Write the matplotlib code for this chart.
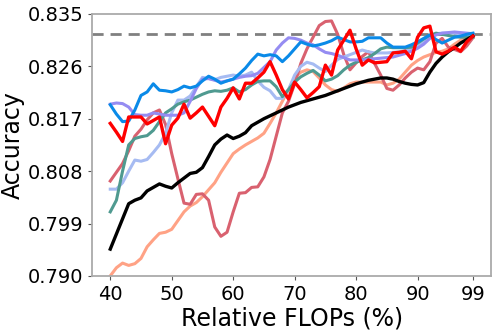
import matplotlib
matplotlib.use("Agg")
import matplotlib.pyplot as plt
import numpy as np

# relative FLOPs (%) and accuracy per method
flops = np.arange(40, 100)

acc_black = [0.7946, 0.7972, 0.7998, 0.8024, 0.8030, 0.8034, 0.8046, 0.8052, 0.8058, 0.8054,
             0.8051, 0.8060, 0.8068, 0.8076, 0.8078, 0.8086, 0.8105, 0.8125, 0.8135, 0.8142,
             0.8136, 0.8140, 0.8146, 0.8158, 0.8164, 0.8170, 0.8175, 0.8180, 0.8185, 0.8190,
             0.8194, 0.8198, 0.8201, 0.8204, 0.8207, 0.8210, 0.8214, 0.8218, 0.8222, 0.8226,
             0.8230, 0.8233, 0.8236, 0.8238, 0.8240, 0.8240, 0.8238, 0.8234, 0.8231, 0.8229,
             0.8228, 0.8232, 0.8250, 0.8265, 0.8276, 0.8285, 0.8292, 0.8300, 0.8306, 0.8312]
acc_red = [0.8162, 0.8147, 0.8131, 0.8173, 0.8173, 0.8173, 0.8161, 0.8167, 0.8173, 0.8127,
           0.8159, 0.8171, 0.8195, 0.8171, 0.8180, 0.8190, 0.8174, 0.8158, 0.8190, 0.8205,
           0.8223, 0.8204, 0.8231, 0.8231, 0.8240, 0.8250, 0.8268, 0.8245, 0.8220, 0.8204,
           0.8233, 0.8220, 0.8206, 0.8215, 0.8225, 0.8262, 0.8245, 0.8288, 0.8305, 0.8322,
           0.8290, 0.8262, 0.8271, 0.8266, 0.8267, 0.8268, 0.8283, 0.8284, 0.8286, 0.8273,
           0.8310, 0.8326, 0.8329, 0.8285, 0.8281, 0.8286, 0.8293, 0.8286, 0.8302, 0.8312]
acc_blue = [0.8194, 0.8178, 0.8165, 0.8166, 0.8185, 0.8210, 0.8216, 0.8230, 0.8219, 0.8218,
            0.8216, 0.8220, 0.8226, 0.8223, 0.8226, 0.8235, 0.8243, 0.8238, 0.8231, 0.8235,
            0.8238, 0.8247, 0.8257, 0.8270, 0.8281, 0.8278, 0.8280, 0.8278, 0.8268, 0.8278,
            0.8290, 0.8302, 0.8298, 0.8295, 0.8297, 0.8300, 0.8304, 0.8310, 0.8306, 0.8302,
            0.8302, 0.8303, 0.8309, 0.8309, 0.8309, 0.8300, 0.8293, 0.8293, 0.8293, 0.8297,
            0.8302, 0.8308, 0.8314, 0.8306, 0.8300, 0.8305, 0.8310, 0.8312, 0.8315, 0.8317]
acc_purple = [0.8195, 0.8197, 0.8196, 0.8190, 0.8177, 0.8176, 0.8176, 0.8180, 0.8178, 0.8176,
              0.8176, 0.8176, 0.8180, 0.8200, 0.8222, 0.8238, 0.8239, 0.8236, 0.8233, 0.8235,
              0.8238, 0.8241, 0.8243, 0.8244, 0.8248, 0.8258, 0.8268, 0.8288, 0.8300, 0.8309,
              0.8308, 0.8305, 0.8300, 0.8297, 0.8290, 0.8284, 0.8282, 0.8279, 0.8275, 0.8271,
              0.8271, 0.8271, 0.8272, 0.8273, 0.8274, 0.8275, 0.8276, 0.8279, 0.8282, 0.8286,
              0.8291, 0.8298, 0.8308, 0.8314, 0.8317, 0.8318, 0.8319, 0.8318, 0.8317, 0.8316]
acc_teal = [0.8010, 0.8030, 0.8080, 0.8125, 0.8136, 0.8139, 0.8141, 0.8150, 0.8165, 0.8180,
            0.8187, 0.8195, 0.8199, 0.8202, 0.8207, 0.8212, 0.8216, 0.8218, 0.8217, 0.8219,
            0.8223, 0.8216, 0.8220, 0.8228, 0.8234, 0.8235, 0.8235, 0.8225, 0.8208, 0.8220,
            0.8233, 0.8242, 0.8248, 0.8253, 0.8245, 0.8235, 0.8238, 0.8244, 0.8254, 0.8262,
            0.8267, 0.8271, 0.8275, 0.8282, 0.8290, 0.8293, 0.8292, 0.8292, 0.8292, 0.8293,
            0.8300, 0.8307, 0.8313, 0.8317, 0.8315, 0.8313, 0.8311, 0.8310, 0.8310, 0.8310]
acc_lightblue = [0.8049, 0.8049, 0.8060, 0.8080, 0.8099, 0.8097, 0.8100, 0.8112, 0.8125, 0.8145,
                 0.8180, 0.8202, 0.8202, 0.8209, 0.8225, 0.8241, 0.8239, 0.8237, 0.8241, 0.8243,
                 0.8245, 0.8243, 0.8245, 0.8250, 0.8235, 0.8224, 0.8218, 0.8205, 0.8205, 0.8220,
                 0.8245, 0.8260, 0.8267, 0.8264, 0.8257, 0.8251, 0.8262, 0.8272, 0.8276, 0.8280,
                 0.8284, 0.8288, 0.8285, 0.8283, 0.8283, 0.8283, 0.8284, 0.8285, 0.8287, 0.8290,
                 0.8295, 0.8302, 0.8310, 0.8316, 0.8317, 0.8317, 0.8317, 0.8316, 0.8314, 0.8313]
acc_pink = [0.8063, 0.8078, 0.8093, 0.8115, 0.8140, 0.8152, 0.8168, 0.8180, 0.8185, 0.8160,
            0.8110, 0.8067, 0.8025, 0.8023, 0.8040, 0.8041, 0.8030, 0.7984, 0.7968, 0.7975,
            0.8010, 0.8042, 0.8043, 0.8052, 0.8053, 0.8070, 0.8100, 0.8140, 0.8180, 0.8200,
            0.8230, 0.8265, 0.8290, 0.8310, 0.8330, 0.8337, 0.8338, 0.8315, 0.8280, 0.8254,
            0.8266, 0.8277, 0.8285, 0.8265, 0.8245, 0.8222, 0.8219, 0.8228, 0.8240, 0.8250,
            0.8257, 0.8254, 0.8268, 0.8300, 0.8308, 0.8293, 0.8289, 0.8285, 0.8295, 0.8309]
acc_salmon = [0.7900, 0.7914, 0.7922, 0.7918, 0.7921, 0.7930, 0.7950, 0.7962, 0.7973, 0.7975,
              0.7980, 0.7995, 0.8010, 0.8020, 0.8026, 0.8036, 0.8048, 0.8060, 0.8078, 0.8094,
              0.8110, 0.8118, 0.8125, 0.8131, 0.8137, 0.8145, 0.8162, 0.8180, 0.8200, 0.8220,
              0.8240, 0.8250, 0.8254, 0.8251, 0.8240, 0.8228, 0.8220, 0.8217, 0.8223, 0.8230,
              0.8233, 0.8233, 0.8233, 0.8233, 0.8233, 0.8228, 0.8231, 0.8238, 0.8250, 0.8262,
              0.8270, 0.8276, 0.8280, 0.8284, 0.8286, 0.8290, 0.8298, 0.8305, 0.8308, 0.8310]
baseline = 0.8316

yticks = [0.790, 0.799, 0.808, 0.817, 0.826, 0.835]
xticks = [40, 50, 60, 70, 80, 90, 99]

fig = plt.figure(figsize=(4.98, 3.32), dpi=100)
ax = fig.add_axes([0.185, 0.169, 0.801, 0.789])

ax.axhline(baseline, color='#808080', linestyle='--', linewidth=2, dashes=(4, 2.5))

ax.plot(flops, acc_salmon, color='#ffa285', lw=2.2)
ax.plot(flops, acc_pink, color='#d9616f', lw=2.2)
ax.plot(flops, acc_lightblue, color='#a6bbf2', lw=2.2)
ax.plot(flops, acc_teal, color='#4f9a90', lw=2.2)
ax.plot(flops, acc_purple, color='#958cf2', lw=2.2)
ax.plot(flops, acc_blue, color='#0a8ae8', lw=2.2)
ax.plot(flops, acc_black, color='black', lw=2.4)
ax.plot(flops, acc_red, color='red', lw=2.4)

ax.set_ylim(0.790, 0.835)
ax.set_yticks(yticks)
ax.set_yticklabels(['%.3f' % v for v in yticks])
ax.set_xticks(xticks)
ax.tick_params(labelsize=14, length=3, color='#555555')

for s in ax.spines.values():
    s.set_color('#aaaaaa')
    s.set_linewidth(1.3)

ax.set_xlabel('Relative FLOPs (%)', fontsize=17, labelpad=2)
ax.set_ylabel('Accuracy', fontsize=17, labelpad=2)

fig.savefig('out.png', dpi=100)
